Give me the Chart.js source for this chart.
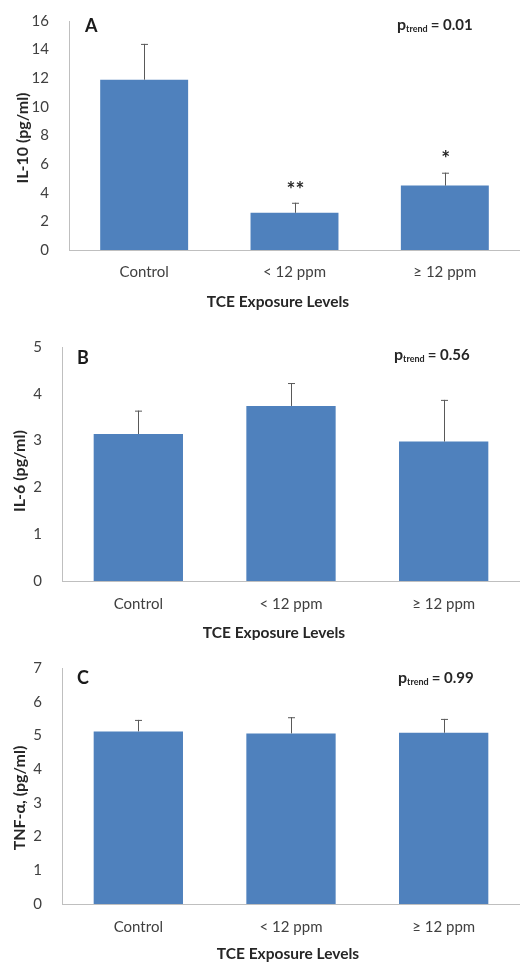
<!DOCTYPE html>
<html>
<head>
<meta charset="utf-8">
<script src="https://cdn.jsdelivr.net/npm/chart.js@4"></script>
<style>
  html, body { margin: 0; padding: 0; background: #fff; width: 520px; height: 965px; overflow: hidden; }
  .panel { position: absolute; left: 0; width: 520px; }
</style>
</head>
<body>
<div class="panel" style="top:0;height:320px"><canvas id="chartA"></canvas></div>
<div class="panel" style="top:320px;height:320px"><canvas id="chartB"></canvas></div>
<div class="panel" style="top:640px;height:325px"><canvas id="chartC"></canvas></div>
<script>
// exposure groups (shared x categories)
const groups = ["Control", "< 12 ppm", "≥ 12 ppm"];

// IL-10 (panel A)
const il10Mean = [11.9, 2.6, 4.5];
const il10Sd = [2.5, 0.7, 0.9];
const il10Stars = ["", "**", "*"];

// IL-6 (panel B)
const il6Mean = [3.14, 3.74, 2.98];
const il6Sd = [0.5, 0.49, 0.89];

// TNF-a (panel C)
const tnfMean = [5.12, 5.06, 5.08];
const tnfSd = [0.34, 0.48, 0.41];

const FONT = "Lato, 'Open Sans', sans-serif";
const BAR_COLOR = "#4f81bd";

// error bars (upper whisker only) + stars
const errorBars = {
  id: "errorBars",
  afterDatasetsDraw(chart, args, opts) {
    const ctx = chart.ctx;
    const yScale = chart.scales.y;
    const meta = chart.getDatasetMeta(0);
    ctx.save();
    ctx.strokeStyle = "#595959";
    ctx.lineWidth = 1;
    meta.data.forEach((bar, i) => {
      const top = yScale.getPixelForValue(opts.mean[i] + opts.sd[i]);
      const x = Math.round(bar.x) + 0.5;
      ctx.beginPath();
      ctx.moveTo(x, bar.y);
      ctx.lineTo(x, top);
      ctx.moveTo(x - 3.5, top + 0.5);
      ctx.lineTo(x + 3.5, top + 0.5);
      ctx.stroke();
      if (opts.stars && opts.stars[i]) {
        ctx.fillStyle = "#262626";
        ctx.font = "bold 21px " + FONT;
        ctx.textAlign = "center";
        ctx.textBaseline = "middle";
        ctx.fillText(opts.stars[i], bar.x + 1, top - 13);
      }
    });
    ctx.restore();
  }
};

// panel letter, p-trend, axis titles
const panelText = {
  id: "panelText",
  afterDraw(chart, args, o) {
    const ctx = chart.ctx;
    ctx.save();
    ctx.fillStyle = "#1a1a1a";
    ctx.textBaseline = "middle";
    ctx.textAlign = "left";
    ctx.font = "bold 18px " + FONT;
    ctx.fillText(o.letter, o.letterX, o.letterY);

    // p with subscript "trend"
    let x = o.pX;
    ctx.fillStyle = "#262626";
    ctx.font = "bold 16px " + FONT;
    ctx.fillText("p", x, o.pY);
    x += ctx.measureText("p").width;
    ctx.font = "bold 9px " + FONT;
    ctx.fillText("trend", x, o.pY + 4);
    x += ctx.measureText("trend").width + 3;
    ctx.font = "bold 15px " + FONT;
    ctx.fillText("= " + o.p, x, o.pY);

    // x axis title
    ctx.textAlign = "center";
    ctx.font = "bold 15.5px " + FONT;
    ctx.fillText("TCE Exposure Levels", o.xTitleX, o.xTitleY);

    // y axis title
    ctx.translate(o.yTitleX, o.yTitleY);
    ctx.rotate(-Math.PI / 2);
    ctx.font = "bold 16px " + FONT;
    ctx.fillText(o.yTitle, 0, 0);
    ctx.restore();
  }
};

function makePanel(id, mean, sd, stars, yMax, yStep, box, text) {
  const ctx = document.getElementById(id).getContext("2d");
  return new Chart(ctx, {
    type: "bar",
    data: {
      labels: groups,
      datasets: [
        {
          data: mean,
          backgroundColor: BAR_COLOR,
          borderWidth: 0,
          categoryPercentage: 1,
          barPercentage: 0.585,
        },
      ],
    },
    options: {
      responsive: true,
      maintainAspectRatio: false,
      animation: false,
      layout: {
        padding: { top: box.top, left: 0, right: 0, bottom: 0 },
      },
      plugins: {
        legend: { display: false },
        tooltip: { enabled: false },
        errorBars: { mean: mean, sd: sd, stars: stars },
        panelText: text,
      },
      scales: {
        x: {
          grid: { display: false },
          border: { display: true, color: "#bfbfbf", width: 1 },
          ticks: {
            color: "#404040",
            font: { family: FONT, size: 15 },
            padding: box.tickPad,
          },
          afterFit(scale) {
            scale.height = box.xHeight;
          },
        },
        y: {
          min: 0,
          max: yMax,
          grid: { display: false },
          border: { display: true, color: "#bfbfbf", width: 1 },
          ticks: {
            stepSize: yStep,
            color: "#404040",
            font: { family: FONT, size: 15 },
            padding: 12,
          },
          afterFit(scale) {
            scale.width = box.left;
          },
        },
      },
    },
    plugins: [errorBars, panelText],
  });
}

makePanel("chartA", il10Mean, il10Sd, il10Stars, 16, 2,
  { top: 16, left: 69, xHeight: 70, tickPad: 5 },
  { letter: "A", letterX: 85, letterY: 26, p: "0.01", pX: 397, pY: 25,
    xTitleX: 278, xTitleY: 302, yTitle: "IL-10 (pg/ml)", yTitleX: 23, yTitleY: 138 });

makePanel("chartB", il6Mean, il6Sd, null, 5, 1,
  { top: 27, left: 62, xHeight: 59, tickPad: 6 },
  { letter: "B", letterX: 77, letterY: 38, p: "0.56", pX: 394, pY: 35,
    xTitleX: 274, xTitleY: 313, yTitle: "IL-6 (pg/ml)", yTitleX: 20, yTitleY: 151 });

makePanel("chartC", tnfMean, tnfSd, null, 7, 1,
  { top: 28, left: 62, xHeight: 61, tickPad: 6 },
  { letter: "C", letterX: 77, letterY: 38, p: "0.99", pX: 398, pY: 38,
    xTitleX: 288, xTitleY: 314, yTitle: "TNF-α, (pg/ml)", yTitleX: 20, yTitleY: 158 });
</script>
</body>
</html>
